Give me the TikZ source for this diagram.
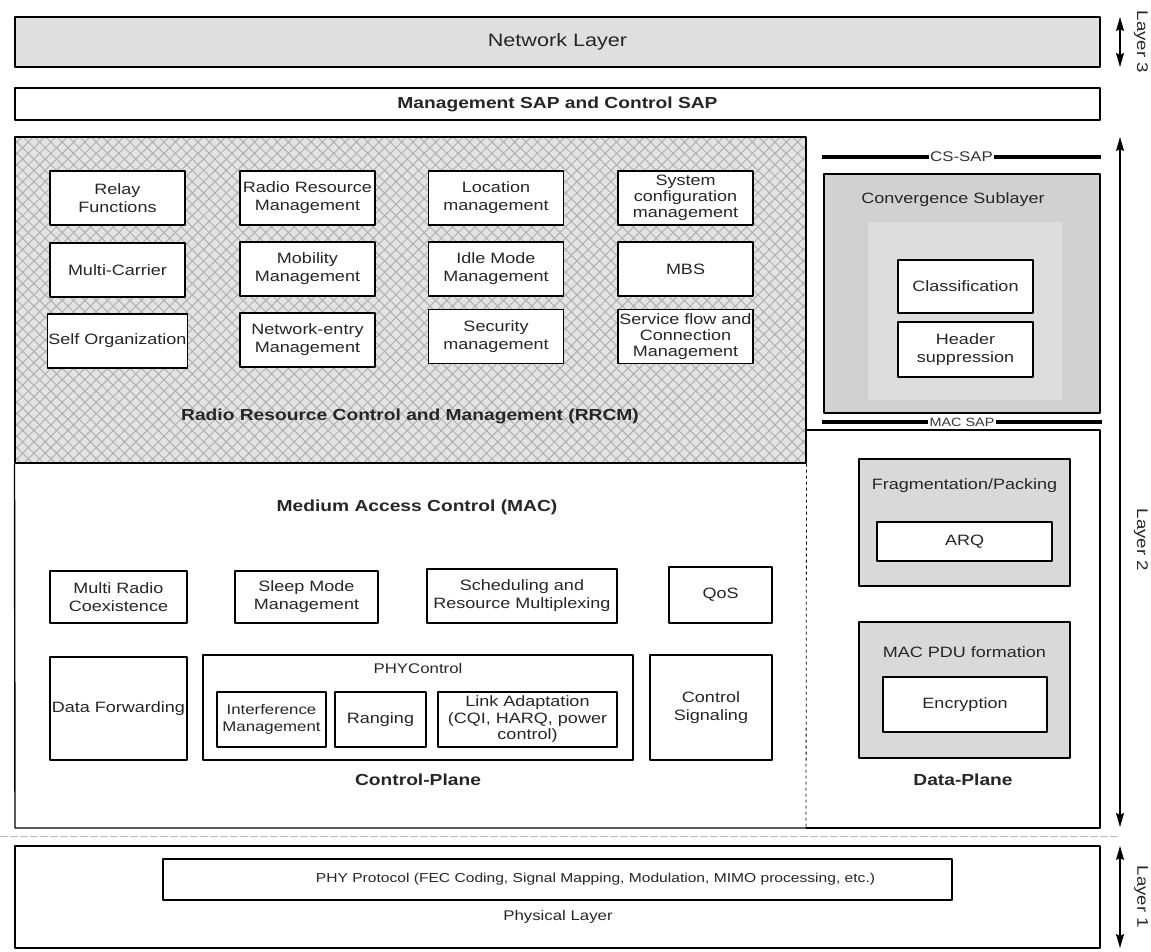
\documentclass[tikz,border=0pt]{standalone}
\usepackage{fontspec}
\setmainfont{Liberation Sans}[FakeStretch=1.2]
\usetikzlibrary{arrows.meta, patterns.meta}

\tikzset{
    blk/.style={draw=black, line width=1.1pt, fill=white, align=center, inner sep=1pt, text=black!85, font=\fontsize{15}{18}\selectfont},
    rrbox/.style={blk, minimum width=135pt, minimum height=54pt},
    graybox/.style={draw=black, line width=1.1pt, fill=gray!30},
    layer/.style={draw=black, line width=1.4pt},
    ttl/.style={text=black!85, font=\fontsize{16}{19}\selectfont\bfseries},
    sub/.style={text=black!85, font=\fontsize{15}{18}\selectfont},
    sap/.style={line width=4pt, line cap=butt},
    saplbl/.style={fill=white, inner sep=1.5pt, text=black!80},
    lvl/.style={arrows={Stealth[length=14pt,width=8pt,inset=2pt]-Stealth[length=14pt,width=8pt,inset=2pt]}, line width=1.1pt},
    lvllbl/.style={rotate=-90, text=black!85, font=\fontsize{15.5}{18}\selectfont},
}

\begin{document}
\begin{tikzpicture}[line join=round, x=1pt, y=-1pt]
    \useasboundingbox (0,0) rectangle (1151,951);

    % layer 3 and the SAP bar
    \node[layer, fill=gray!25, minimum width=1085pt, minimum height=50pt, sub, font=\fontsize{18}{20}\selectfont] (net) at (557.5,42) {Network Layer};
    \node[layer, fill=white, minimum width=1085pt, minimum height=32pt, ttl] (msap) at (557.5,104) {Management SAP and Control SAP};

    % RRCM, hatched
    \node[layer, preaction={fill=gray!22}, pattern={Hatch[angle=45,distance=8pt,line width=1pt]}, pattern color=gray!62,
          minimum width=791pt, minimum height=326pt] (rrcm) at (410.5,300) {};

    \node[rrbox] (relay)  at (117.5,198) {Relay\\Functions};
    \node[rrbox] (rrm)    at (307.5,198) {Radio Resource\\Management};
    \node[rrbox] (loc)    at (496,198)   {Location\\management};
    \node[rrbox, font=\fontsize{15}{16}\selectfont] (syscfg) at (685.5,198) {System\\configuration\\management};

    \node[rrbox] (mcarr)  at (117.5,270) {Multi-Carrier};
    \node[rrbox] (mob)    at (307.5,269) {Mobility\\Management};
    \node[rrbox] (idle)   at (496,269)   {Idle Mode\\Management};
    \node[rrbox] (mbs)    at (685.5,269) {MBS};

    \node[rrbox] (selforg) at (117.5,341) {Self Organization};
    \node[rrbox] (netent)  at (307.5,340) {Network-entry\\Management};
    \node[rrbox] (sec)     at (496,336.5) {Security\\management};
    \node[rrbox, font=\fontsize{15}{16}\selectfont] (sflow) at (685.5,336.5) {Service flow and\\Connection\\Management};

    \node[ttl] (rrcmlbl) at (410,416) {Radio Resource Control and Management (RRCM)};

    % control plane (MAC)
    \coordinate (cpsw) at (15,828);
    \coordinate (cpse) at (806,828);
    \draw[layer] (rrcm.south west) -- (cpsw) -- (cpse);
    \draw[line width=0.8pt, dashed] (rrcm.south east) -- (cpse);

    \node[ttl] (maclbl) at (417,507) {Medium Access Control (MAC)};

    \node[blk, minimum width=137pt, minimum height=52pt] (mrc)   at (118.5,597) {Multi Radio\\Coexistence};
    \node[blk, minimum width=143pt, minimum height=52pt] (sleep) at (306.5,597) {Sleep Mode\\Management};
    \node[blk, minimum width=190pt, minimum height=54pt] (sched) at (522,596)   {Scheduling and\\Resource Multiplexing};
    \node[blk, minimum width=103pt, minimum height=56pt] (qos)   at (720.5,595) {QoS};

    \node[blk, minimum width=137pt, minimum height=103pt] (dfwd)  at (118.5,708.5) {Data Forwarding};
    \node[blk, minimum width=430pt, minimum height=105pt] (phyctl) at (418,707.5) {};
    \node[sub, font=\fontsize{14}{16}\selectfont] (phyctllbl) at (418,668) {PHYControl};
    \node[blk, minimum width=109pt, minimum height=55pt, font=\fontsize{14}{17}\selectfont] (interf) at (271.5,719.5) {Interference\\Management};
    \node[blk, minimum width=91pt, minimum height=55pt]  (rang)   at (380.5,719.5) {Ranging};
    \node[blk, minimum width=179pt, minimum height=55pt, font=\fontsize{15}{16.5}\selectfont] (linkad) at (527.5,719.5) {Link Adaptation\\(CQI, HARQ, power\\control)};
    \node[blk, minimum width=122pt, minimum height=105pt] (ctlsig) at (711,707.5) {Control\\Signaling};

    \node[ttl] (cplane) at (418,780) {Control-Plane};

    % data plane
    \coordinate (dpnw) at (806,430);
    \coordinate (dpne) at (1100,430);
    \coordinate (dpse) at (1100,828);
    \draw[layer] (dpnw) -- (dpne) -- (dpse) -- (cpse);

    \node[graybox, fill=gray!36, minimum width=276pt, minimum height=239pt] (conv) at (962,293.5) {};
    \fill[gray!27] (868,222) rectangle (1062,400);
    \node[sub] (convlbl) at (953,200) {Convergence Sublayer};
    \node[blk, minimum width=135pt, minimum height=53pt] (classif) at (965.5,286.5) {Classification};
    \node[blk, minimum width=135pt, minimum height=55pt] (hdr)     at (965.5,349.5) {Header\\suppression};

    \coordinate (csL) at (822,157);
    \coordinate (csR) at (1101,157);
    \draw[sap] (csL) -- (csR) node[midway, saplbl, font=\fontsize{14}{16}\selectfont] (cssap) {CS-SAP};
    \coordinate (macL) at (822,422);
    \coordinate (macR) at (1102,422);
    \draw[sap] (macL) -- (macR) node[midway, saplbl, font=\fontsize{12}{14}\selectfont] (macsap) {MAC SAP};

    \node[graybox, minimum width=211pt, minimum height=127pt] (frag) at (964.5,522.5) {};
    \node[sub] (fraglbl) at (964.5,486) {Fragmentation/Packing};
    \node[blk, minimum width=175pt, minimum height=39pt] (arq) at (964.5,541.5) {ARQ};

    \node[graybox, minimum width=211pt, minimum height=136pt] (pdu) at (964.5,690) {};
    \node[sub] (pdulbl) at (964.5,652) {MAC PDU formation};
    \node[blk, minimum width=164pt, minimum height=55pt] (encr) at (965,704.5) {Encryption};

    \node[ttl] (dplane) at (963,780) {Data-Plane};

    % layer 1
    \coordinate (sepL) at (0,836);
    \coordinate (sepR) at (1118,836);
    \draw[gray!55, line width=0.8pt, dash pattern=on 8pt off 2pt] (sepL) -- (sepR);

    \node[layer, fill=white, minimum width=1085pt, minimum height=102pt] (phys) at (557.5,897) {};
    \node[blk, minimum width=789pt, minimum height=41pt,
          label={[text=black!85, font=\fontsize{13}{15}\selectfont, xshift=38pt]center:PHY Protocol (FEC Coding, Signal Mapping, Modulation, MIMO processing, etc.)}] (phyproto) at (557.5,879.5) {};
    \node[sub, font=\fontsize{14}{16}\selectfont] (physlbl) at (558,917) {Physical Layer};

    % layer arrows
    \coordinate (l3t) at (1120,17);
    \coordinate (l3b) at (1120,67);
    \coordinate (l2t) at (1120,137);
    \coordinate (l2b) at (1120,827);
    \coordinate (l1t) at (1120,846);
    \coordinate (l1b) at (1120,948);
    \draw[lvl] (l3t) -- (l3b);
    \draw[lvl] (l2t) -- (l2b);
    \draw[lvl] (l1t) -- (l1b);
    \node[lvllbl] (lay3) at (1141,42)  {Layer 3};
    \node[lvllbl] (lay2) at (1141,540) {Layer 2};
    \node[lvllbl] (lay1) at (1141,897) {Layer 1};

\end{tikzpicture}
\end{document}
